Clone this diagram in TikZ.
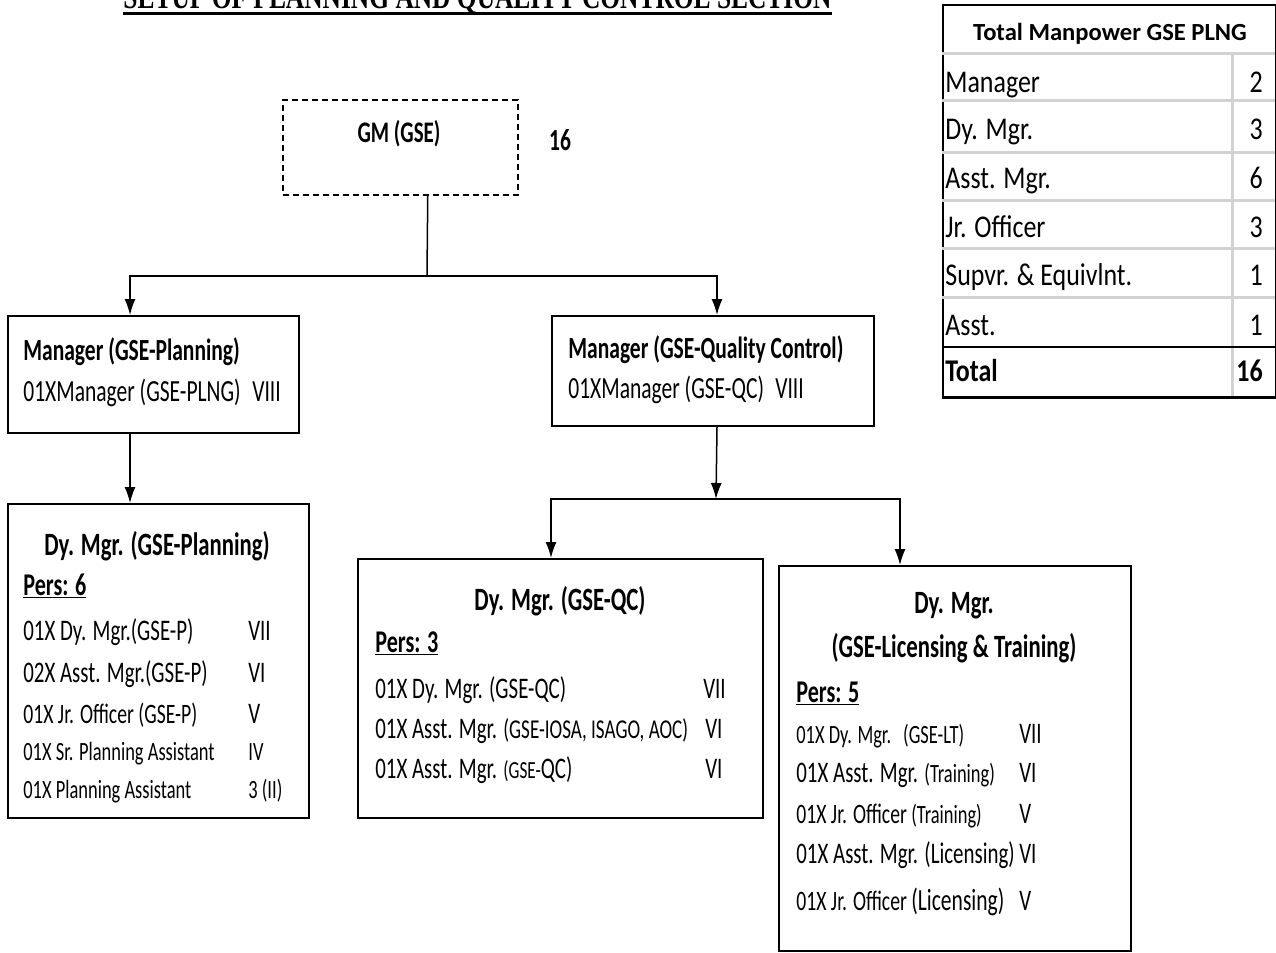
\documentclass[tikz,border=0pt]{standalone}
\usepackage{fontspec}
\setmainfont{Carlito}[FakeStretch=0.7]
\newfontfamily\tablefont{Carlito}[FakeStretch=0.82]
\newfontfamily\headerfont{Carlito}
\newfontfamily\titlefont{Liberation Serif}[FakeStretch=0.75]
\usetikzlibrary{arrows.meta}
\newcommand{\fsz}[1]{\fontsize{#1}{#1}\selectfont}

\begin{document}
\begin{tikzpicture}[x=0.2mm, y=-0.2mm,
  box/.style={draw, line width=0.4mm, rectangle, anchor=north west, inner sep=0pt},
  txt/.style={anchor=base west, inner sep=0pt, font=\fsz{17}},
  head/.style={anchor=base, inner sep=0pt, font=\fsz{18.5}\bfseries},
  pers/.style={anchor=base west, inner sep=0pt, font=\fsz{18}\bfseries},
  cell/.style={anchor=base west, inner sep=0pt, font=\tablefont\fsz{18}},
  num/.style={anchor=base east, inner sep=0pt, font=\tablefont\fsz{18}},
  rule/.style={draw=gray!35, line width=0.6mm},
  link/.style={-{Latex[length=3.2mm, width=2.2mm]}, line width=0.3mm}]

  \useasboundingbox (0,0) rectangle (1276,952);
  \clip (0,0) rectangle (1276,952);

  % Title (cut by the top edge)
  \node[anchor=base, inner sep=0pt, font=\titlefont\fsz{19.3}\bfseries] (title) at (477.5,8) {SETUP OF PLANNING AND QUALITY CONTROL SECTION};
  \draw[line width=0.6mm] ([yshift=-1.1mm]title.base west) -- ([yshift=-1.1mm]title.base east);

  % Boxes
  \node[box, line width=0.3mm, dash pattern=on 1.2mm off 0.8mm, minimum width=47mm, minimum height=19mm] (gm) at (282,99) {};
  \node[box, minimum width=58.2mm, minimum height=23.4mm] (mgrpl) at (7,315) {};
  \node[box, minimum width=64.4mm, minimum height=22mm] (mgrqc) at (551,315) {};
  \node[box, minimum width=60.2mm, minimum height=62.8mm] (dypl) at (7,503) {};
  \node[box, minimum width=81mm, minimum height=51.8mm] (dyqc) at (357,558) {};
  \node[box, minimum width=70.4mm, minimum height=77mm] (dylt) at (778,565) {};

  % Connectors
  \coordinate (bus1) at (427,276);
  \coordinate (bus2) at (716,499);
  \draw[line width=0.3mm] ([xshift=5.5mm]gm.south) -- (bus1);
  \draw[link] (bus1) -| ([xshift=-4.7mm]mgrpl.north);
  \draw[link] (bus1) -| ([xshift=0.8mm]mgrqc.north);
  \draw[link] ([xshift=-4.7mm]mgrpl.south) -- ([xshift=-4.7mm]mgrpl.south |- dypl.north);
  \draw[link] ([xshift=0.8mm]mgrqc.south) -- (bus2);
  \draw[link] (bus2) -| ([xshift=-1.9mm]dyqc.north);
  \draw[link] (bus2) -| ([xshift=-11mm]dylt.north);

  % GM
  \node[head, font=\fsz{17}\bfseries] (gmt) at (399,142) {GM (GSE)};
  \node[head, font=\fsz{17.5}\bfseries] (gmn) at (560,150) {16};

  % Managers
  \node[txt, font=\fsz{17.5}\bfseries] (mgrplt) at (23,360) {Manager (GSE-Planning)};
  \node[txt, font=\fsz{17.5}] (mgrpl1) at (23,401) {01XManager (GSE-PLNG)};
  \node[txt, font=\fsz{17.5}] (mgrplg) at (252,401) {VIII};
  \node[txt, font=\fsz{17.5}\bfseries] (mgrqct) at (568,358) {Manager (GSE-Quality Control)};
  \node[txt, font=\fsz{17.5}] (mgrqc1) at (568,398) {01XManager (GSE-QC)};
  \node[txt, font=\fsz{17.5}] (mgrqcg) at (775,398) {VIII};

  % Dy. Mgr. (GSE-Planning)
  \node[head] (dyplt) at (157,555) {Dy. Mgr. (GSE-Planning)};
  \node[pers] (dyplp) at (23,595) {\underline{Pers: 6}};
  \node[txt] (dypl1) at (23,640) {01X Dy. Mgr.(GSE-P)};
  \node[txt] (dypl1g) at (248,640) {VII};
  \node[txt] (dypl2) at (23,682) {02X Asst. Mgr.(GSE-P)};
  \node[txt] (dypl2g) at (248,682) {VI};
  \node[txt, font=\fsz{16}] (dypl3) at (23,723) {01X Jr. Officer (GSE-P)};
  \node[txt] (dypl3g) at (248,723) {V};
  \node[txt, font=\fsz{15}] (dypl4) at (23,760) {01X Sr. Planning Assistant};
  \node[txt, font=\fsz{15}] (dypl4g) at (248,760) {IV};
  \node[txt, font=\fsz{15}] (dypl5) at (23,798) {01X Planning Assistant};
  \node[txt, font=\fsz{15}] (dypl5g) at (248,798) {3 (II)};

  % Dy. Mgr. (GSE-QC)
  \node[head] (dyqct) at (560,610) {Dy. Mgr. (GSE-QC)};
  \node[pers] (dyqcp) at (375,652) {\underline{Pers: 3}};
  \node[txt] (dyqc1) at (375,698) {01X Dy. Mgr. (GSE-QC)};
  \node[txt] (dyqc1g) at (703,698) {VII};
  \node[txt] (dyqc2) at (375,738) {01X Asst. Mgr. {\fsz{15.5}(GSE-IOSA, ISAGO, AOC)}};
  \node[txt] (dyqc2g) at (705,738) {VI};
  \node[txt] (dyqc3) at (375,778) {01X Asst. Mgr. {\fsz{14}(GSE-}QC)};
  \node[txt] (dyqc3g) at (705,778) {VI};

  % Dy. Mgr. (GSE-Licensing & Training)
  \node[head] (dyltt) at (954,613) {Dy. Mgr.};
  \node[head] (dyltt2) at (954,657) {(GSE-Licensing \& Training)};
  \node[pers] (dyltp) at (796,702) {\underline{Pers: 5}};
  \node[txt, font=\fsz{15}] (dylt1) at (796,743) {01X Dy. Mgr.\hspace{2.4mm}(GSE-LT)};
  \node[txt] (dylt1g) at (1019,743) {VII};
  \node[txt] (dylt2) at (796,782) {01X Asst. Mgr. {\fsz{15}(Training)}};
  \node[txt] (dylt2g) at (1019,782) {VI};
  \node[txt, font=\fsz{16}] (dylt3) at (796,823) {01X Jr. Officer {\fsz{15}(Training)}};
  \node[txt] (dylt3g) at (1019,823) {V};
  \node[txt] (dylt4) at (796,863) {01X Asst. Mgr. (Licensing)};
  \node[txt] (dylt4g) at (1019,863) {VI};
  \node[txt, font=\fsz{16}] (dylt5) at (796,910) {01X Jr. Officer {\fsz{17.5}(Licensing)}};
  \node[txt] (dylt5g) at (1019,910) {V};

  % Manpower table
  \node[box, line width=0.3mm, minimum width=66.6mm, minimum height=78.6mm] (tbl) at (942,4) {};
  \foreach \yy in {53,100,152,200,248,297}
    \draw[rule] (942,\yy) -- (1275,\yy);
  \draw[rule] (1232,53) -- (1232,397);
  \draw[line width=0.4mm] (942,347) -- (1275,347);
  \draw[line width=0.6mm] (942,397) -- (1275,397);
  \node[anchor=base, inner sep=0pt, font=\headerfont\fsz{14}\bfseries] (tblhead) at (1110,40) {Total Manpower GSE PLNG};
  \foreach \lab/\n/\yy [count=\i] in {Manager/2/92, Dy. Mgr./3/139, Asst. Mgr./6/188, Jr. Officer/3/237, Supvr. \& Equivlnt./1/285, Asst./1/335}
  {
    \node[cell] (row\i) at (945,\yy) {\lab};
    \node[num] (num\i) at (1263,\yy) {\n};
  }
  \node[cell, font=\tablefont\fsz{18}\bfseries] (rowtot) at (945,381) {Total};
  \node[num, font=\tablefont\fsz{18}\bfseries] (numtot) at (1263,381) {16};
\end{tikzpicture}
\end{document}
